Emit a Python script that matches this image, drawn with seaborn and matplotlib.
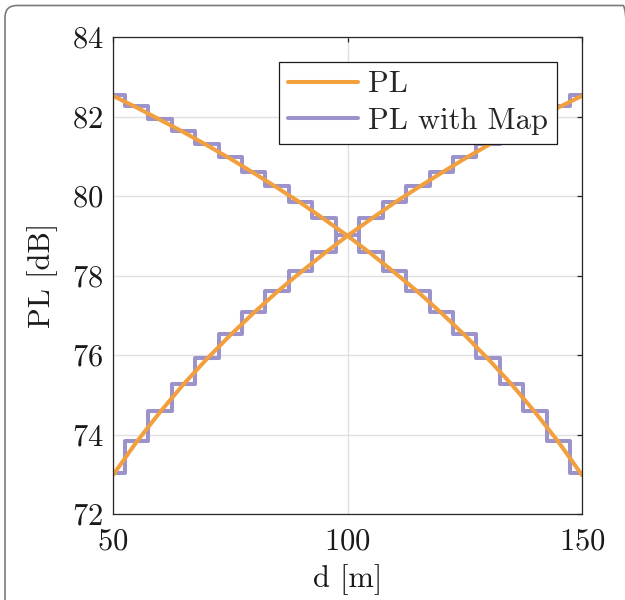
import numpy as np
import pandas as pd
import matplotlib
matplotlib.use("Agg")
from matplotlib import pyplot as plt
from matplotlib.patches import FancyBboxPatch
from matplotlib.lines import Line2D
import seaborn as sns

sns.set_style("white")
plt.rcParams['font.family'] = ['cmr10', 'DejaVu Serif']
plt.rcParams['axes.formatter.use_mathtext'] = True

# distance [m] and path loss [dB]
d = [50, 55, 60, 65, 70, 75, 80, 85, 90, 95, 100,
     105, 110, 115, 120, 125, 130, 135, 140, 145, 150]
pl_up = [72.98, 73.81, 74.56, 75.26, 75.90, 76.50, 77.06, 77.59, 78.08, 78.55, 79.00,
         79.42, 79.83, 80.21, 80.58, 80.94, 81.28, 81.61, 81.92, 82.23, 82.52]
pl_down = [82.52, 82.23, 81.92, 81.61, 81.28, 80.94, 80.58, 80.21, 79.83, 79.42, 79.00,
           78.55, 78.08, 77.59, 77.06, 76.50, 75.90, 75.26, 74.56, 73.81, 72.98]
# mapped (quantised) values, one per 5 m cell
map_up = [73.02, 73.84, 74.59, 75.28, 75.93, 76.53, 77.09, 77.62, 78.11, 78.58, 79.03,
          79.45, 79.86, 80.24, 80.61, 80.97, 81.31, 81.64, 81.95, 82.26, 82.55]
map_down = [82.55, 82.26, 81.95, 81.64, 81.31, 80.97, 80.61, 80.24, 79.86, 79.45, 79.03,
            78.58, 78.11, 77.62, 77.09, 76.53, 75.93, 75.28, 74.59, 73.84, 73.02]

xticks = [50, 100, 150]
yticks = [72, 74, 76, 78, 80, 82, 84]

orange = '#F2A03D'
purple = '#9C92CC'
fs = 22

df = pd.DataFrame({'d': d, 'pl_up': pl_up, 'pl_down': pl_down,
                   'map_up': map_up, 'map_down': map_down})

fig = plt.figure(figsize=(6.25, 6.0), dpi=100)
ax = fig.add_axes([0.1808, 0.1433, 0.7504, 0.795])

# mapped step curves first, smooth PL on top
for col in ['map_up', 'map_down']:
    sns.lineplot(data=df, x='d', y=col, ax=ax, color=purple, lw=2.9,
                 drawstyle='steps-mid', estimator=None, sort=False)
for col in ['pl_up', 'pl_down']:
    sns.lineplot(data=df, x='d', y=col, ax=ax, color=orange, lw=2.9,
                 estimator=None, sort=False)

ax.set_xlim(50, 150)
ax.set_ylim(72, 84)
ax.set_xticks(xticks)
ax.set_yticks(yticks)
ax.grid(True, color='#E0E0E0', lw=1.0)
ax.set_axisbelow(True)
for s in ax.spines.values():
    s.set_color('#262626')
    s.set_linewidth(0.9)
ax.tick_params(direction='in', length=3.6, width=0.9, top=True, right=True,
               labelsize=fs, colors='#262626', pad=7)
ax.tick_params(axis='x', pad=10)
for lab in ax.get_xticklabels() + ax.get_yticklabels():
    lab.set_color('#1a1a1a')
ax.set_xlabel('d [m]', fontsize=fs, color='#1a1a1a', labelpad=6)
ax.set_ylabel('PL [dB]', fontsize=fs, color='#1a1a1a', labelpad=10)

handles = [Line2D([], [], color=orange, lw=2.9), Line2D([], [], color=purple, lw=2.9)]
leg = ax.legend(handles, ['PL', 'PL with Map'], loc='upper left',
                bbox_to_anchor=(0.354, 0.948), fontsize=fs, frameon=True,
                fancybox=False, edgecolor='#1a1a1a', framealpha=1,
                handlelength=2.3, handletextpad=0.3, borderpad=0.3,
                labelspacing=0.3, borderaxespad=0)
leg.get_frame().set_linewidth(0.9)

# outer rounded frame (cropped on the right and bottom)
frame = FancyBboxPatch((0.05, -1.0), 6.3, 6.945, boxstyle='round,pad=0,rounding_size=0.12',
                       transform=fig.dpi_scale_trans, fill=False,
                       edgecolor='#7a7a7a', lw=1.2)
fig.patches.append(frame)

fig.savefig('out.png', dpi=100)
